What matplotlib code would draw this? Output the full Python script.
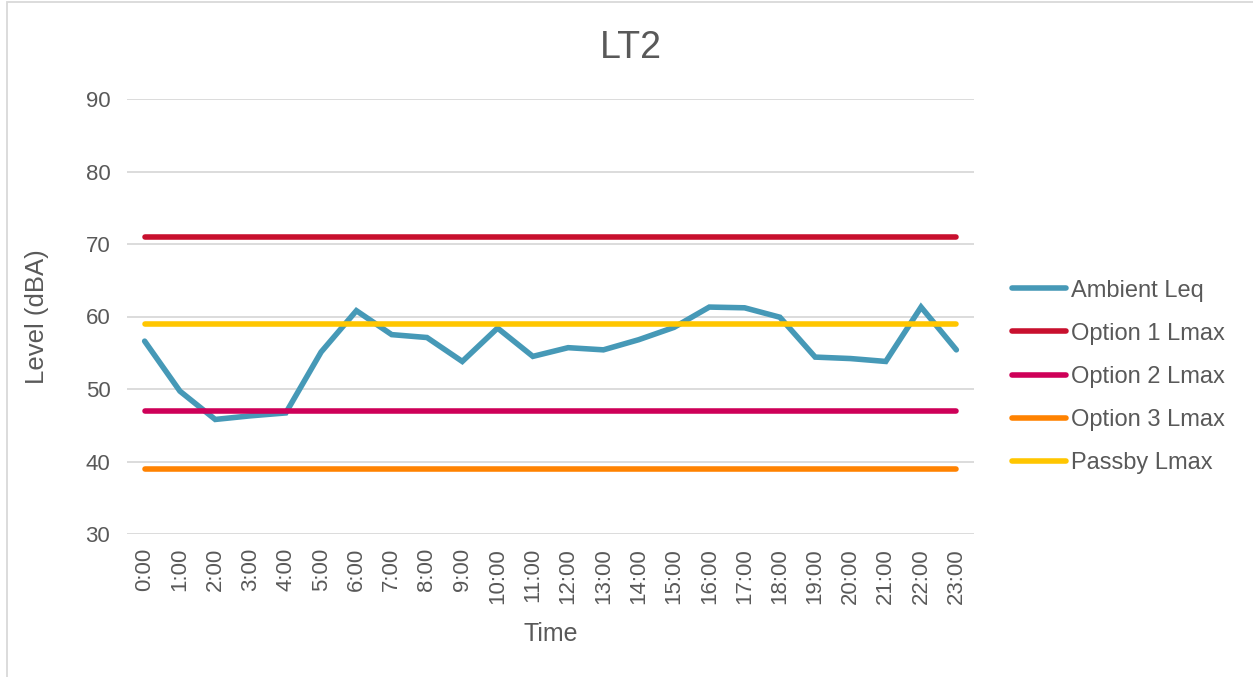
import matplotlib
matplotlib.use("Agg")
import matplotlib.pyplot as plt
from matplotlib.patches import Rectangle

plt.rcParams['font.family'] = ['Liberation Sans', 'DejaVu Sans']

times = [f"{h}:00" for h in range(24)]
ambient_leq = [56.6, 49.7, 45.8, 46.3, 46.7, 55.1, 60.8, 57.5, 57.1, 53.8, 58.4, 54.5,
               55.7, 55.4, 56.8, 58.5, 61.3, 61.2, 59.9, 54.4, 54.2, 53.8, 61.3, 55.4]
option1_lmax = [71] * 24
option2_lmax = [47] * 24
option3_lmax = [39] * 24
passby_lmax = [59] * 24

series = [
    ("Ambient Leq", ambient_leq, "#4699B7"),
    ("Option 1 Lmax", option1_lmax, "#C8102E"),
    ("Option 2 Lmax", option2_lmax, "#CE0058"),
    ("Option 3 Lmax", option3_lmax, "#FF8200"),
    ("Passby Lmax", passby_lmax, "#FFC600"),
]

W, H = 1253, 677
fig = plt.figure(figsize=(W / 100, H / 100), dpi=100)
# plot area in pixels: left 127, right 974, top 99, bottom 534
L, R, T, B = 127, 974, 99, 534
ax = fig.add_axes([L / W, 1 - B / H, (R - L) / W, (B - T) / H])

x = list(range(len(times)))
for name, vals, col in series:
    ax.plot(x, vals, color=col, lw=4, label=name, solid_capstyle='round', solid_joinstyle='miter', zorder=3)

ax.set_xlim(-0.5, len(times) - 0.5)
ax.set_ylim(30, 90)
ax.set_yticks(range(30, 91, 10))
ax.set_xticks(x)
ax.set_xticklabels(times, rotation=90, fontsize=16, color='#595959')
ax.tick_params(axis='y', labelsize=16, labelcolor='#595959', length=0, pad=12)
ax.tick_params(axis='x', length=0, pad=10)
ax.grid(axis='y', color='#D9D9D9', lw=1.3, zorder=0)
for s in ax.spines.values():
    s.set_visible(False)

ax.set_ylabel("Level (dBA)", fontsize=18.5, color='#595959', labelpad=26)
ax.set_xlabel("Time", fontsize=18, color='#595959', labelpad=13)

fig.text(631 / W, 1 - 48 / H, "LT2", fontsize=27, color='#595959', ha='center', va='center')

leg = ax.legend(loc='center left', bbox_to_anchor=((1012 - L) / (R - L), (B - 377) / (B - T)),
                frameon=False, fontsize=17, handlelength=2.3, handletextpad=0.2,
                labelspacing=0.9, borderaxespad=0, borderpad=0)
for t in leg.get_texts():
    t.set_color('#595959')

fig.patches.append(Rectangle((7 / W, -0.1), 1.2, 1 - 2 / H + 0.1, transform=fig.transFigure,
                             fill=False, edgecolor='#D9D9D9', lw=1.3))

fig.savefig("out.png", dpi=100)
